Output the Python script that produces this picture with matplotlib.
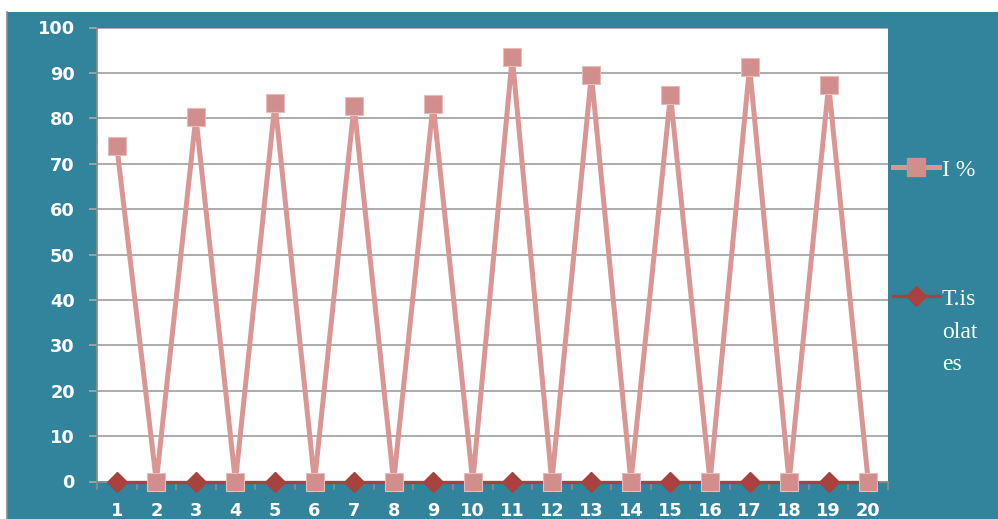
import textwrap
import matplotlib
matplotlib.use("Agg")
import matplotlib.pyplot as plt
from matplotlib.lines import Line2D
from matplotlib.patches import Rectangle

# Data
samples = list(range(1, 21))
i_percent = [73.9, 0, 80.3, 0, 83.4, 0, 82.8, 0, 83.2, 0,
             93.5, 0, 89.6, 0, 85.1, 0, 91.4, 0, 87.4, 0]
t_isolates = [0] * 20
series_labels = ["I %", "T.isolates"]
y_ticks = list(range(0, 101, 10))

W, H = 998, 519
TEAL = "#31849B"
PINK = "#D99694"
PINK_MK = "#D28E8C"
DARK_RED = "#A8423F"
GRID = "#A6A6A6"

fig = plt.figure(figsize=(W / 100, H / 100), dpi=100, facecolor="white")

# teal chart frame with a thin gray left border
fig.add_artist(Rectangle((7 / W, 0), 1 - 7 / W, 1 - 12 / H, transform=fig.transFigure,
                         facecolor=TEAL, edgecolor="none", zorder=0))
fig.add_artist(Line2D([7 / W, 7 / W], [0, 1 - 12 / H], transform=fig.transFigure,
                      color="#8C8C8C", lw=1.2))

left, right = 97 / W, 888 / W
bottom, top = 1 - 481.5 / H, 1 - 27.5 / H
ax = fig.add_axes([left, bottom, right - left, top - bottom])
ax.set_facecolor("white")

ax.plot(samples, i_percent, color=PINK, lw=3.6, marker="s", markersize=12.5,
        markerfacecolor=PINK_MK, markeredgecolor="#E6BCBA", markeredgewidth=0.8,
        zorder=4, clip_on=False, solid_joinstyle="miter")
ax.plot(samples, t_isolates, color=DARK_RED, lw=2.4, marker="D", markersize=10.5,
        markerfacecolor=DARK_RED, markeredgecolor=DARK_RED, zorder=3, clip_on=False)

ax.set_xlim(0.5, 20.5)
ax.set_ylim(0, 100)
ax.set_yticks(y_ticks)
ax.set_xticks(samples)
ax.set_xticks([s - 0.5 for s in samples] + [20.5], minor=True)
ax.yaxis.grid(True, color=GRID, lw=1.3)
ax.set_axisbelow(True)

for s in ["top", "right"]:
    ax.spines[s].set_visible(False)
ax.spines["left"].set_color("#8C8C8C")
ax.spines["left"].set_linewidth(1.3)
ax.spines["bottom"].set_color("#8C8C8C")
ax.spines["bottom"].set_linewidth(1.3)

ax.tick_params(axis="y", which="major", length=6, width=1.3, color=GRID, pad=10,
               labelcolor="white", labelsize=12.8)
ax.tick_params(axis="x", which="major", length=0, pad=15, labelcolor="white", labelsize=12.8)
ax.tick_params(axis="x", which="minor", length=6, width=1.2, color="#8C8C8C")
for lab in ax.get_xticklabels() + ax.get_yticklabels():
    lab.set_fontweight("bold")
    lab.set_family("DejaVu Sans")

# legend on the right side of the frame
legend_rows = [
    (PINK, 3.6, "s", PINK_MK, 12.5, 167),
    (DARK_RED, 2.4, "D", DARK_RED, 10.5, 296),
]
for (col, lw, mk, mfc, ms, yp), label in zip(legend_rows, series_labels):
    yf = 1 - yp / H
    fig.add_artist(Line2D([893 / W, 939 / W], [yf, yf], transform=fig.transFigure,
                          color=col, lw=lw))
    fig.add_artist(Line2D([916 / W], [yf], transform=fig.transFigure, marker=mk,
                          markersize=ms, markerfacecolor=mfc, markeredgecolor=mfc,
                          linestyle="none"))
    for k, line in enumerate(textwrap.wrap(label, 4)):
        base = yp + 9 + k * 32.5
        fig.text(942 / W, 1 - base / H, line, color="white", fontsize=17,
                 family="Liberation Serif", va="baseline", ha="left")

fig.savefig("out.png", dpi=100, facecolor="white")
